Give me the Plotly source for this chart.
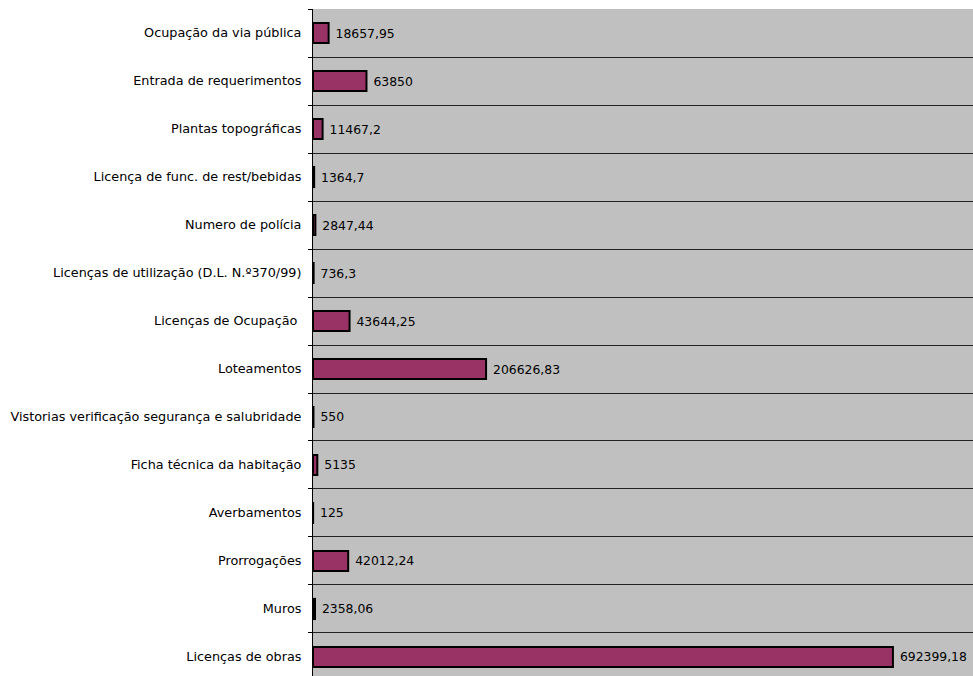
import plotly.graph_objects as go

categories = [
    "Ocupação da via pública",
    "Entrada de requerimentos",
    "Plantas topográficas",
    "Licença de func. de rest/bebidas",
    "Numero de polícia",
    "Licenças de utilização (D.L. N.º370/99)",
    "Licenças de Ocupação ",
    "Loteamentos",
    "Vistorias verificação segurança e salubridade",
    "Ficha técnica da habitação",
    "Averbamentos",
    "Prorrogações",
    "Muros",
    "Licenças de obras",
]
values = [18657.95, 63850, 11467.2, 1364.7, 2847.44, 736.3, 43644.25,
          206626.83, 550, 5135, 125, 42012.24, 2358.06, 692399.18]


def fmt(v):
    if float(v).is_integer():
        return str(int(v))
    return str(v).replace(".", ",")


labels = [" " + fmt(v) for v in values]

FONT = "DejaVu Sans"

fig = go.Figure(go.Bar(
    x=values,
    y=categories,
    orientation="h",
    width=0.42,
    marker=dict(color="#993366", line=dict(color="black", width=2)),
    text=labels,
    textposition="outside",
    cliponaxis=False,
    textfont=dict(family=FONT, size=12.4, color="black"),
))

fig.update_layout(
    width=973,
    height=676,
    margin=dict(l=313, r=0, t=9, b=0),
    paper_bgcolor="white",
    plot_bgcolor="#C0C0C0",
    showlegend=False,
    font=dict(family=FONT, size=12.8, color="black"),
)
fig.update_xaxes(
    range=[0, 788000],
    showgrid=False,
    showticklabels=False,
    zeroline=False,
    showline=False,
    ticks="",
)
fig.update_yaxes(
    type="category",
    categoryorder="array",
    categoryarray=categories,
    range=[13.396, -0.5],
    tickson="boundaries",
    ticks="outside",
    ticklen=4,
    tickcolor="black",
    ticklabelstandoff=8,
    showgrid=True,
    gridcolor="#222222",
    gridwidth=1,
    showline=True,
    linecolor="black",
    linewidth=1,
    mirror=False,
    zeroline=False,
)

fig.write_html(
    "out.html",
    config={"displayModeBar": False},
    post_script="document.body.style.margin='0';document.body.style.overflow='hidden';",
)
